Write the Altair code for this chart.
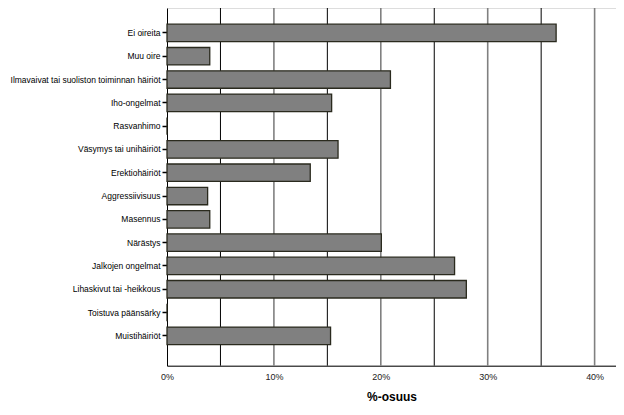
import altair as alt
import pandas as pd

categories = [
    "Ei oireita", "Muu oire", "Ilmavaivat tai suoliston toiminnan häiriöt",
    "Iho-ongelmat", "Rasvanhimo", "Väsymys tai unihäiriöt", "Erektiohäiriöt",
    "Aggressiivisuus", "Masennus", "Närästys", "Jalkojen ongelmat",
    "Lihaskivut tai -heikkous", "Toistuva päänsärky", "Muistihäiriöt",
]
values = [0.364, 0.040, 0.209, 0.154, 0.0, 0.160, 0.134,
          0.038, 0.040, 0.2005, 0.269, 0.280, 0.0, 0.153]
grid_dark = [0.05, 0.15, 0.25, 0.35]
grid_gray = [0.10, 0.20, 0.30, 0.40]
x_ticks = [0.0, 0.1, 0.2, 0.3, 0.4]

FONT = "Liberation Sans"
df = pd.DataFrame({"cat": categories, "val": values})
xscale = alt.Scale(domain=[0, 0.42], nice=False, zero=True)

dark = alt.Chart(pd.DataFrame({"g": grid_dark})).mark_rule(
    color="#000000", strokeWidth=1
).encode(x=alt.X("g:Q", scale=xscale))
gray = alt.Chart(pd.DataFrame({"g": grid_gray})).mark_rule(
    color="#808080", strokeWidth=1.6
).encode(x=alt.X("g:Q", scale=xscale))

bars = alt.Chart(df).mark_bar(
    color="#808080", stroke="#2a2a1e", strokeWidth=1.3
).encode(
    x=alt.X("val:Q", scale=xscale,
            axis=alt.Axis(values=x_ticks, format=".0%", title="%-osuus",
                          grid=False, ticks=False, labelPadding=7,
                          labelFlush=False,
                          labelFontSize=9, labelColor="#222222",
                          labelFont=FONT, titleFont=FONT, titleFontSize=12,
                          titleFontWeight="bold", titleColor="#000000",
                          titlePadding=10, domainColor="#000000")),
    y=alt.Y("cat:N", sort=categories,
            scale=alt.Scale(paddingInner=0.25, paddingOuter=0.8, align=0.434),
            axis=alt.Axis(title=None, labelFont=FONT, labelFontSize=8.5,
                          labelColor="#000000", tickColor="#000000",
                          tickSize=5, tickWidth=1.5, labelPadding=2,
                          domainColor="#000000", labelLimit=300)),
)

chart = alt.layer(dark, gray, bars).properties(
    width=449, height=357.7,
    padding={"left": 159, "top": 0, "right": 0, "bottom": 45},
    autosize=alt.AutoSizeParams(type="none"),
).configure_view(stroke="#000000", strokeWidth=1).configure(background="white")

chart.save("out.html", embed_options={"renderer": "svg", "actions": False})
